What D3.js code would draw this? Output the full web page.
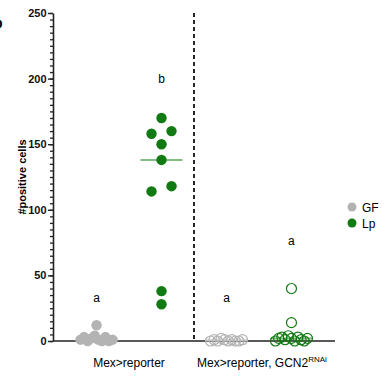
<!DOCTYPE html>
<html>
<head>
<meta charset="utf-8">
<script src="https://cdn.jsdelivr.net/npm/d3@7"></script>
<style>
  body { margin: 0; background: #fff; }
  svg text { font-family: "Liberation Sans", Arial, sans-serif; }
</style>
</head>
<body>
<div id="chart"></div>
<script>
// values
const genotypes = ["Mex>reporter", "Mex>reporter, GCN2"];
const conditions = ["GF", "Lp"];
const gfReporter = [1, 3, 0, 2, 4, 1, 0, 3, 0, 1, 12];
const lpReporter = [114, 118, 158, 160, 150, 138, 170, 38, 28];
const gfRnai = [0, 1, 0, 2, 1, 0, 1, 0, 0, 1];
const lpRnai = [0, 2, 3, 1, 4, 2, 0, 3, 1, 0, 2, 14, 40];
const letters = ["a", "b", "a", "a"];
const letterLevels = [33, 200, 33, 76];
const yTicks = [0, 50, 100, 150, 200, 250];

const groups = [
  {cond: "GF", open: false, values: gfReporter},
  {cond: "Lp", open: false, values: lpReporter},
  {cond: "GF", open: true, values: gfRnai},
  {cond: "Lp", open: true, values: lpRnai}
];

const colors = {GF: "#b3b3b3", Lp: "#127a12"};
const medianColors = {GF: "#cfcfcf", Lp: "#82bf82"};

const width = 385, height = 376;
const svg = d3.select("#chart").append("svg")
    .attr("width", width)
    .attr("height", height);

const y = d3.scaleLinear().domain([0, 250]).range([341, 13]);
const x = d3.scalePoint().domain(d3.range(groups.length)).range([53, 335]).padding(0.67);

// panel letter cut off at the left edge
svg.append("text").attr("x", -6).attr("y", 28)
    .attr("font-size", 14).attr("font-weight", "bold").text("b");

// minor ticks
svg.append("g")
    .attr("transform", "translate(53,0)")
    .call(d3.axisLeft(y).tickValues(d3.range(0, 251, 5)).tickSize(3).tickFormat("").tickSizeOuter(0))
    .call(g => g.select(".domain").remove())
    .call(g => g.selectAll("line").attr("stroke", "#222").attr("stroke-width", 1.3));

let yAxis = svg.append("g")
    .attr("transform", "translate(53,0)")
    .call(d3.axisLeft(y).tickValues(yTicks).tickSize(5).tickPadding(1.5).tickSizeOuter(0));
yAxis.select(".domain").attr("stroke", "#222").attr("stroke-width", 1.6);
yAxis.selectAll("line").attr("stroke", "#222").attr("stroke-width", 1.4);
yAxis.selectAll("text")
    .attr("font-family", "Liberation Sans, Arial, sans-serif")
    .attr("font-size", 11).attr("font-weight", "bold").attr("fill", "#111");

svg.append("text")
    .attr("transform", `translate(26,${(y(0) + y(250)) / 2}) rotate(-90)`)
    .attr("text-anchor", "middle")
    .attr("font-size", 11).attr("font-weight", "bold")
    .text("#positive cells");

// x axis line
svg.append("line")
    .attr("x1", x.range()[0]).attr("x2", x.range()[1])
    .attr("y1", y(0)).attr("y2", y(0))
    .attr("stroke", "#222").attr("stroke-width", 1.6);

// dashed divider between the two genotypes
let xDiv = (x(1) + x(2)) / 2;
svg.append("line")
    .attr("x1", xDiv).attr("x2", xDiv)
    .attr("y1", y(250)).attr("y2", y(0))
    .attr("stroke", "#111").attr("stroke-width", 1.8)
    .attr("stroke-dasharray", "4,3");

// category labels
svg.append("text")
    .attr("x", (x(0) + x(1)) / 2).attr("y", 367)
    .attr("text-anchor", "middle").attr("font-size", 12)
    .text(genotypes[0]);
let lab2 = svg.append("text")
    .attr("x", (x(2) + x(3)) / 2 + 3).attr("y", 367)
    .attr("text-anchor", "middle").attr("font-size", 12);
lab2.append("tspan").text(genotypes[1]);
lab2.append("tspan").attr("font-size", 8).attr("dy", -5).text("RNAi");

// simple column scatter layout: points in the same value bin spread sideways
function spread(values) {
    let bins = d3.group(values.map((v, i) => ({v, i})), d => Math.floor(d.v / 12));
    let out = [];
    bins.forEach(pts => {
        let n = pts.length;
        let step = n > 1 ? Math.min(20, 32 / (n - 1)) : 0;
        pts.forEach((p, k) => out.push({v: p.v, dx: (k - (n - 1) / 2) * step}));
    });
    return out;
}

groups.forEach((g, gi) => {
    let cx = x(gi);
    let med = d3.median(g.values);
    svg.append("line")
        .attr("x1", cx - 21).attr("x2", cx + 21)
        .attr("y1", y(med)).attr("y2", y(med))
        .attr("stroke", medianColors[g.cond]).attr("stroke-width", 2);

    svg.append("g").selectAll("circle")
        .data(spread(g.values))
        .enter()
        .append("circle")
        .attr("cx", d => cx + d.dx)
        .attr("cy", d => y(d.v))
        .attr("r", g.open ? 5 : 5.2)
        .attr("fill", g.open ? "none" : colors[g.cond])
        .attr("stroke", colors[g.cond])
        .attr("stroke-width", g.open ? 1.2 : 0);

    svg.append("text")
        .attr("x", cx).attr("y", y(letterLevels[gi]) + 4)
        .attr("text-anchor", "middle").attr("font-size", 12)
        .text(letters[gi]);
});

// legend
let legend = svg.append("g").selectAll("g")
    .data(conditions)
    .enter()
    .append("g")
    .attr("transform", (d, i) => `translate(352,${207 + i * 16})`);
legend.append("circle").attr("r", 4.5).attr("fill", d => colors[d]);
legend.append("text").attr("x", 10).attr("y", 4.5).attr("font-size", 12).text(d => d);
</script>
</body>
</html>
